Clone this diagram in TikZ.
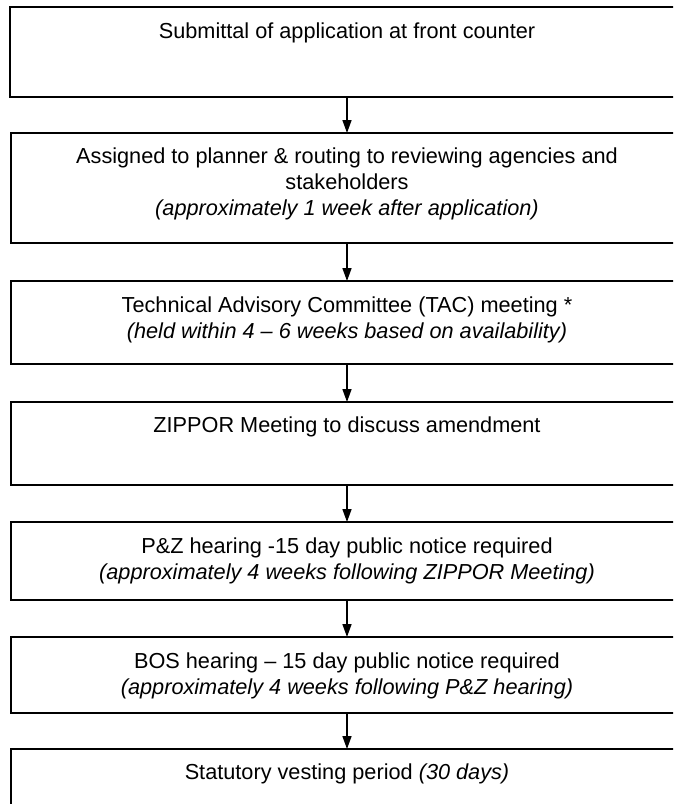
\documentclass[tikz,border=0pt]{standalone}
\usepackage{fontspec}
\setmainfont{Liberation Sans}
\usetikzlibrary{arrows.meta}
\begin{document}
\begin{tikzpicture}[x=1pt,y=-1pt,
  stepbox/.style={draw=black, line width=1.8pt, rectangle, inner sep=0pt, outer sep=0pt, anchor=north west},
  txt/.style={anchor=base, inner sep=0pt, font=\fontsize{21.7}{26}\selectfont},
  itxt/.style={anchor=base, inner sep=0pt, font=\fontsize{21.7}{26}\selectfont\itshape},
  flow/.style={line width=1.6pt, -{Triangle[length=13pt,width=9pt]}}]
\clip (0,0) rectangle (673,804);
\node[stepbox, minimum width=674pt, minimum height=90pt] (b1) at (10,7) {};
\node[stepbox, minimum width=672pt, minimum height=110pt] (b2) at (11,133) {};
\node[stepbox, minimum width=672pt, minimum height=83pt] (b3) at (11,281) {};
\node[stepbox, minimum width=672pt, minimum height=83pt] (b4) at (11,402) {};
\node[stepbox, minimum width=672pt, minimum height=78pt] (b5) at (11,522) {};
\node[stepbox, minimum width=672pt, minimum height=76pt] (b6) at (11,637) {};
\node[stepbox, minimum width=672pt, minimum height=90pt] (b7) at (11,749) {};

\node[txt] (t1) at (347,38) {Submittal of application at front counter};
\node[txt] (t2a) at (347,163) {Assigned to planner \& routing to reviewing agencies and};
\node[txt] (t2b) at (347,189) {stakeholders};
\node[itxt] (t2c) at (347,215) {(approximately 1 week after application)};
\node[txt] (t3a) at (347,312) {Technical Advisory Committee (TAC) meeting *};
\node[itxt] (t3b) at (347,338) {(held within 4 – 6 weeks based on availability)};
\node[txt] (t4) at (347,432) {ZIPPOR Meeting to discuss amendment};
\node[txt] (t5a) at (347,553) {P\&Z hearing -15 day public notice required};
\node[itxt] (t5b) at (347,579) {(approximately 4 weeks following ZIPPOR Meeting)};
\node[txt] (t6a) at (347,668) {BOS hearing – 15 day public notice required};
\node[itxt] (t6b) at (347,694) {(approximately 4 weeks following P\&Z hearing)};
\node[txt] (t7) at (347,779) {Statutory vesting period \textit{(30 days)}};

\draw[flow] (b1.south) -- (b2.north);
\draw[flow] (b2.south) -- (b3.north);
\draw[flow] (b3.south) -- (b4.north);
\draw[flow] (b4.south) -- (b5.north);
\draw[flow] (b5.south) -- (b6.north);
\draw[flow] (b6.south) -- (b7.north);
\end{tikzpicture}
\end{document}
